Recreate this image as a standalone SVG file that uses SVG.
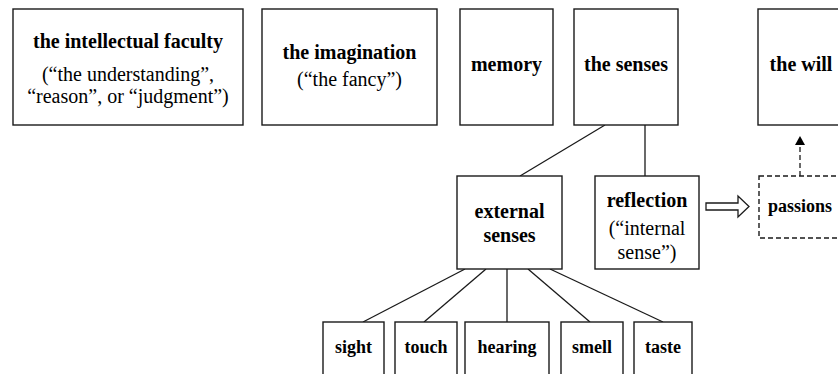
<svg xmlns="http://www.w3.org/2000/svg" width="838" height="374" viewBox="0 0 838 374" font-family="'Liberation Serif', 'Times New Roman', Tinos, 'DejaVu Serif', serif">
<style>
rect.box{fill:#fff;stroke:#1a1a1a;stroke-width:1.4}
rect.dash{fill:#fff;stroke:#1a1a1a;stroke-width:1.4;stroke-dasharray:5,3}
text{font-family:'Liberation Serif', 'Times New Roman', Tinos, 'DejaVu Serif', serif;fill:#000;text-anchor:middle}
.b{font-weight:bold;font-size:20px}
.r{font-size:20px}
.s{font-weight:bold;font-size:18px}
.c line{stroke:#1a1a1a;stroke-width:1.3}
</style>
<rect width="838" height="374" fill="#fff"/>
<g class="c" id="connectors">
<line x1="605" y1="125" x2="520" y2="176"/>
<line x1="645" y1="125" x2="645" y2="176"/>
<line x1="465" y1="269" x2="363" y2="322"/>
<line x1="486" y1="269" x2="424" y2="322"/>
<line x1="507" y1="269" x2="507" y2="322"/>
<line x1="528" y1="269" x2="590" y2="322"/>
<line x1="550" y1="269" x2="663" y2="322"/>
<polygon points="706,203 738,203 738,196 749,206.5 738,217 738,210 706,210" fill="#fff" stroke="#1a1a1a" stroke-width="1.3"/>
<line x1="800" y1="176" x2="800" y2="144" style="stroke-dasharray:5,3"/>
<polygon points="800,136 795,145 805,145" fill="#000"/>
</g>
<g id="intellect"><rect class="box" x="13" y="9" width="230" height="116"/>
<text class="b" x="128" y="48">the intellectual faculty</text>
<text class="r" x="128" y="81">(“the understanding”,</text>
<text class="r" x="128" y="103">“reason”, or “judgment”)</text></g>
<g id="imagination"><rect class="box" x="262" y="9" width="175" height="116"/>
<text class="b" x="349.5" y="59">the imagination</text>
<text class="r" x="349.5" y="86">(“the fancy”)</text></g>
<g id="memory"><rect class="box" x="460" y="9" width="93" height="116"/>
<text class="b" x="506.5" y="71">memory</text></g>
<g id="senses"><rect class="box" x="574" y="9" width="104" height="116"/>
<text class="b" x="626" y="71">the senses</text></g>
<g id="will"><rect class="box" x="758" y="9" width="85" height="116"/>
<text class="b" x="801" y="71">the will</text></g>
<g id="external"><rect class="box" x="457" y="176" width="105" height="93"/>
<text class="b" x="509.5" y="218">external</text>
<text class="b" x="509.5" y="242">senses</text></g>
<g id="reflection"><rect class="box" x="595" y="176" width="104" height="93"/>
<text class="b" x="647" y="207">reflection</text>
<text class="r" x="647" y="235">(“internal</text>
<text class="r" x="647" y="259">sense”)</text></g>
<g id="passions"><rect class="dash" x="759" y="176" width="84" height="62"/>
<text class="s" x="800" y="212">passions</text></g>
<g id="sight"><rect class="box" x="323" y="322" width="61" height="70"/><text class="s" x="353.5" y="353">sight</text></g>
<g id="touch"><rect class="box" x="395" y="322" width="62" height="70"/><text class="s" x="426" y="353">touch</text></g>
<g id="hearing"><rect class="box" x="465" y="322" width="84" height="70"/><text class="s" x="507" y="353">hearing</text></g>
<g id="smell"><rect class="box" x="561" y="322" width="62" height="70"/><text class="s" x="592" y="353">smell</text></g>
<g id="taste"><rect class="box" x="634" y="322" width="58" height="70"/><text class="s" x="663" y="353">taste</text></g>
</svg>
